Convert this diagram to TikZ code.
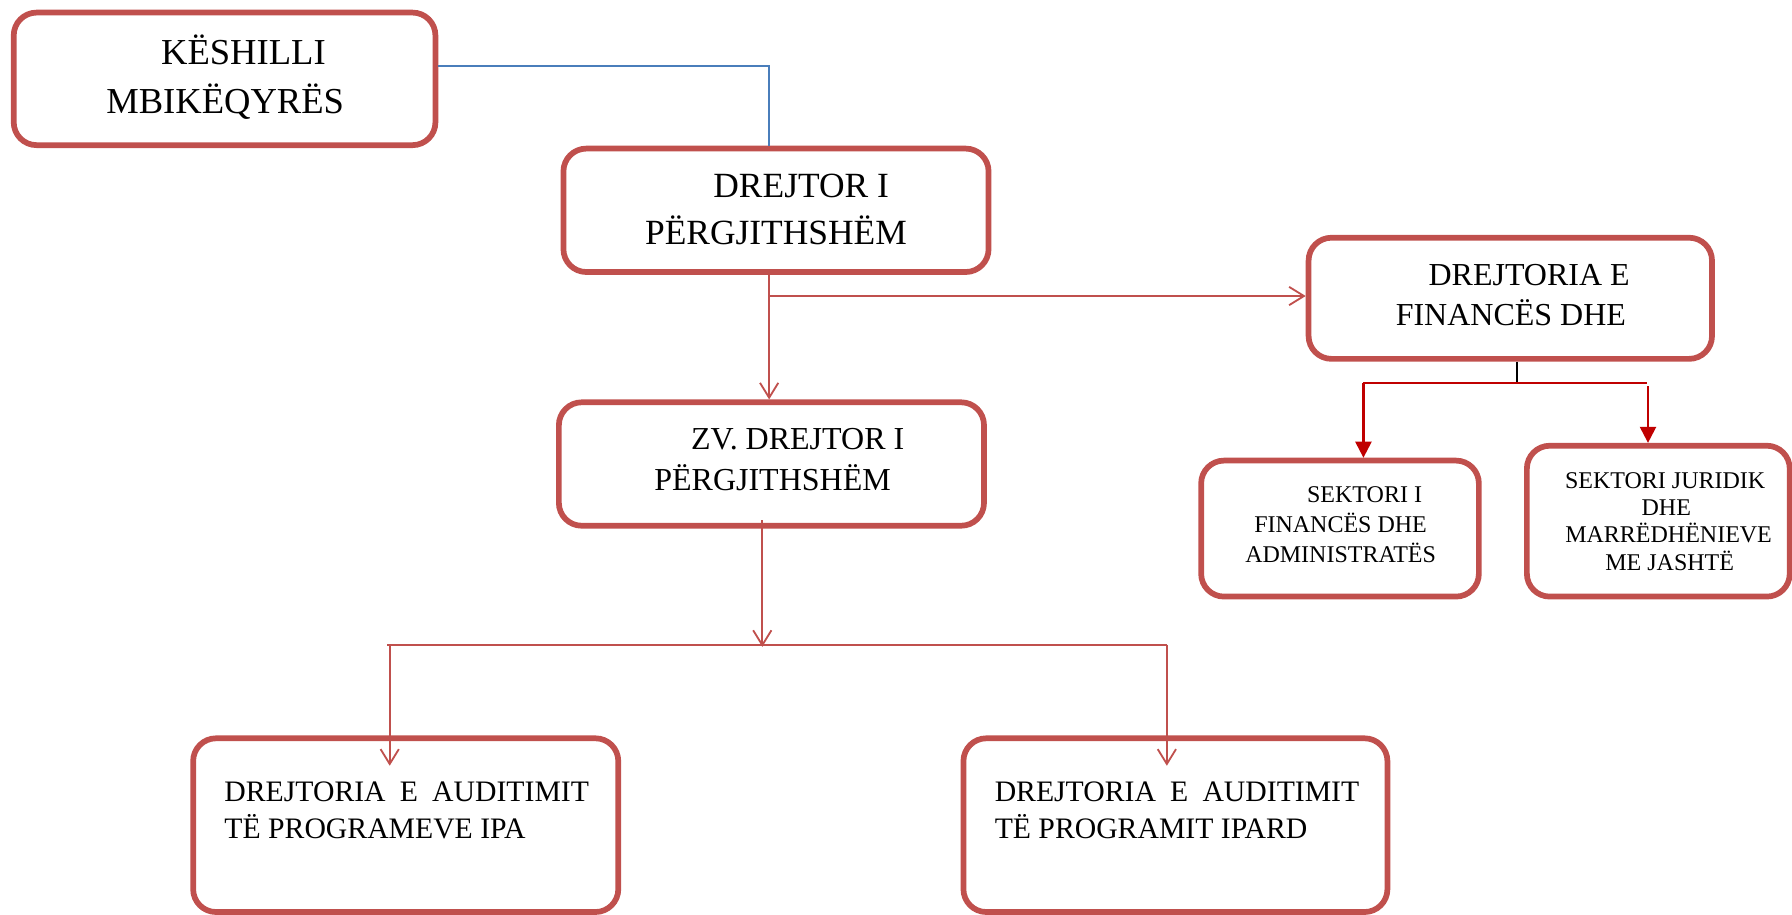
\documentclass[tikz,border=0pt]{standalone}
\usepackage{fontspec}
\setmainfont{Liberation Serif}
\usetikzlibrary{arrows.meta}
\definecolor{boxred}{HTML}{C0504D}
\definecolor{darkred}{HTML}{C00000}
\definecolor{lineblue}{HTML}{4A7EBB}
\begin{document}
\begin{tikzpicture}[x=0.5pt,y=-0.5pt,
  box/.style={draw=boxred,line width=2.5pt,rounded corners=10pt,inner sep=0pt,fill=white},
  txt/.style={anchor=base,inner sep=0pt},
  redline/.style={draw=boxred,line width=0.8pt},
  openarrow/.style={redline,-{Straight Barb[length=6.5pt,width=8pt,line width=0.8pt]}},
  fillarrow/.style={draw=darkred,line width=1pt,-{Triangle[length=7pt,width=7pt]}},
  blueline/.style={draw=lineblue,line width=0.8pt}]
\useasboundingbox (0,0) rectangle (1568,800);
% boxes
\node[box,minimum width=184.5pt,minimum height=58pt] (b1) at (196.5,69) {};
\node[box,minimum width=186pt,minimum height=54pt] (b2) at (679,184) {};
\node[box,minimum width=176.5pt,minimum height=53pt] (b3) at (1321.5,261) {};
\node[box,minimum width=186pt,minimum height=54pt] (b4) at (675,406) {};
\node[box,minimum width=121.5pt,minimum height=59.5pt] (b5) at (1172.5,462.5) {};
\node[box,minimum width=115pt,minimum height=66pt] (b6) at (1451,456) {};
\node[box,minimum width=186pt,minimum height=76pt] (b7) at (355,722) {};
\node[box,minimum width=185.5pt,minimum height=76pt] (b8) at (1028.5,722) {};
% texts
\node[txt,font=\fontsize{16}{19}\selectfont] (t1a) at (213,56) {KËSHILLI};
\node[txt,font=\fontsize{16}{19}\selectfont] (t1b) at (197,99) {MBIKËQYRËS};
\node[txt,font=\fontsize{15.5}{19}\selectfont] (t2a) at (701,173) {DREJTOR I};
\node[txt,font=\fontsize{15.5}{19}\selectfont] (t2b) at (679,214) {PËRGJITHSHËM};
\node[txt,font=\fontsize{14}{17}\selectfont] (t3a) at (1338,250) {DREJTORIA E};
\node[txt,font=\fontsize{14}{17}\selectfont] (t3b) at (1322,285) {FINANCËS DHE};
\node[txt,font=\fontsize{14}{17}\selectfont] (t4a) at (698,393) {ZV. DREJTOR I};
\node[txt,font=\fontsize{14}{17}\selectfont] (t4b) at (676,429) {PËRGJITHSHËM};
\node[txt,font=\fontsize{10.5}{13}\selectfont] (t5a) at (1194,440) {SEKTORI I};
\node[txt,font=\fontsize{10.5}{13}\selectfont] (t5b) at (1173,466) {FINANCËS DHE};
\node[txt,font=\fontsize{10.5}{13}\selectfont] (t5c) at (1173,492) {ADMINISTRATËS};
\node[txt,font=\fontsize{10.5}{13}\selectfont] (t6a) at (1457,427) {SEKTORI JURIDIK};
\node[txt,font=\fontsize{10.5}{13}\selectfont] (t6b) at (1458,451) {DHE};
\node[txt,font=\fontsize{10.5}{13}\selectfont] (t6c) at (1460,475) {MARRËDHËNIEVE};
\node[txt,font=\fontsize{10.5}{13}\selectfont] (t6d) at (1461,499) {ME JASHTË};
\node[txt,anchor=base west,font=\fontsize{13}{16}\selectfont] (t7a) at (196,701) {\makebox[159.5pt][s]{DREJTORIA \ E \ AUDITIMIT}};
\node[txt,anchor=base west,font=\fontsize{13}{16}\selectfont] (t7b) at (196,734) {TË PROGRAMEVE IPA};
\node[txt,anchor=base west,font=\fontsize{13}{16}\selectfont] (t8a) at (870,701) {\makebox[159.5pt][s]{DREJTORIA \ E \ AUDITIMIT}};
\node[txt,anchor=base west,font=\fontsize{13}{16}\selectfont] (t8b) at (870,734) {TË PROGRAMIT IPARD};
% connector points
\coordinate (c1) at (673,58);
\coordinate (c2) at (673,259);
\coordinate (c3) at (1327,335);
\coordinate (c3l) at (1193,335);
\coordinate (c3r) at (1441,335);
\coordinate (c3rs) at (1442,338);
\coordinate (c4s) at (667,455);
\coordinate (c4) at (667,566);
\coordinate (c5l) at (339,564);
\coordinate (c5r) at (1021,564);
\coordinate (c5a) at (341,564);
\coordinate (c7) at (341,670);
\coordinate (c8) at (1021,670);
% connectors
\draw[blueline] (b1.east |- c1) -- (c1) -- (c1 |- b2.north);
\draw[openarrow] (c1 |- b2.south) -- (c1 |- b4.north);
\draw[openarrow] (c2) -- (c2 -| b3.west);
\draw[black,line width=0.9pt] (c3 |- b3.south) -- (c3);
\draw[darkred,line width=1pt] (c3l) -- (c3r);
\draw[fillarrow] (c3l) -- (c3l |- b5.north);
\draw[fillarrow] (c3rs) -- (c3rs |- b6.north);
\draw[openarrow] (c4s) -- (c4);
\draw[redline] (c5l) -- (c5r);
\draw[openarrow] (c5a) -- (c7);
\draw[openarrow] (c5r) -- (c8);
\end{tikzpicture}
\end{document}
